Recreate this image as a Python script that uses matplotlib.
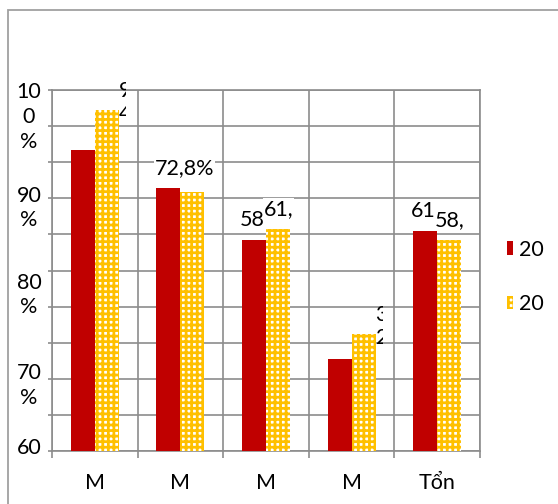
import numpy as np
import matplotlib
matplotlib.use("Agg")
import matplotlib.pyplot as plt
from matplotlib.patches import Rectangle
from matplotlib.transforms import Bbox, TransformedBbox, blended_transform_factory

plt.rcParams['font.family'] = ['Lato', 'DejaVu Sans']
plt.rcParams['hatch.linewidth'] = 2.0

# Datos
categorias = ["M", "M", "M", "M", "Tổn"]
series = ["20", "20"]
valores_a = [83.4, 72.8, 58.4, 25.5, 60.9]
valores_b = [94.5, 71.8, 61.5, 32.4, 58.4]
etiquetas_a = ["", "72,8%", "58", "", "61"]
etiquetas_b = ["9\n4", "", "61,", "3\n2", "58,"]
ytick_textos = ["10\n0\n%", "90\n%", "80\n%", "70\n%", "60"]
ytick_pos = [92.6, 67.3, 43.2, 18.1, 0.8]

rojo = '#C00000'
amarillo = '#FFC000'
gris = '#8c8c8c'
fs = 15.5

fig = plt.figure(figsize=(5.58, 5.04), dpi=100)
ax = fig.add_axes([52/558, 1 - 451/504, 428/558, 361/504])

x = np.arange(len(categorias))
w = 0.28
barras_a = ax.bar(x - w/2, valores_a, w, color=rojo, linewidth=0, label=series[0], zorder=3)
barras_b = ax.bar(x + w/2, valores_b, w, facecolor='white', edgecolor=amarillo, hatch='+++',
                  linewidth=0, label=series[1], zorder=3)

ax.set_xlim(-0.5, len(categorias) - 0.5)
ax.set_ylim(0, 100)

# rejilla
ax.set_yticks(np.arange(0, 101, 10))
ax.set_yticklabels([])
ax.set_xticks(x)
ax.set_xticklabels(categorias, fontsize=fs)
ax.set_xticks(np.arange(-0.5, len(categorias), 1), minor=True)
ax.tick_params(axis='x', which='major', length=0, pad=16)
ax.tick_params(axis='x', which='minor', length=5, width=1.2, color=gris)
ax.tick_params(axis='y', length=3, width=1.2, color=gris)
ax.grid(True, axis='y', color=gris, linewidth=1.2, zorder=0)
ax.grid(True, axis='x', which='minor', color=gris, linewidth=1.2, zorder=0)
for s in ax.spines.values():
    s.set_color(gris)
    s.set_linewidth(1.2)

# etiquetas del eje y (partidas como en el original)
tr = blended_transform_factory(ax.transAxes, ax.transData)
for txt, yp in zip(ytick_textos, ytick_pos):
    ax.text(-0.054, yp, txt, transform=tr, ha='center', va='center', fontsize=fs,
            multialignment='center', linespacing=1.3, clip_on=False)

# etiquetas de datos
px = 1 / 85.6
def etiquetar(barras, etiquetas):
    for b, et in zip(barras, etiquetas):
        if not et:
            continue
        top = b.get_height()
        if "\n" in et:
            x0 = b.get_x() + b.get_width()
            t = ax.text(x0, top + 2.0, et, ha='left', va='center', fontsize=fs,
                        linespacing=1.2, zorder=5)
            t.set_clip_box(TransformedBbox(Bbox([[x0, -10], [x0 + 7*px, 120]]), ax.transData))
            t.set_clip_on(True)
        else:
            ax.text(b.get_x() - 2*px, top + 5.6, et, ha='left', va='center', fontsize=fs,
                    zorder=5, clip_on=False,
                    bbox=dict(facecolor='white', edgecolor='none', pad=0.5))

etiquetar(barras_a, etiquetas_a)
etiquetar(barras_b, etiquetas_b)

fig.legend(handles=[barras_a, barras_b], labels=series, loc='center left',
           bbox_to_anchor=(507/558, 1 - 277/504), frameon=False, fontsize=fs,
           handlelength=0.3, handleheight=0.6, handletextpad=0.25,
           labelspacing=1.6, borderpad=0, borderaxespad=0)

# marco exterior
fig.add_artist(Rectangle((8/558, -0.2), 2, 1 - 10/504 + 0.2, transform=fig.transFigure,
                         fill=False, edgecolor='#a0a0a0', linewidth=1.3))

fig.savefig("out.png", dpi=100)
